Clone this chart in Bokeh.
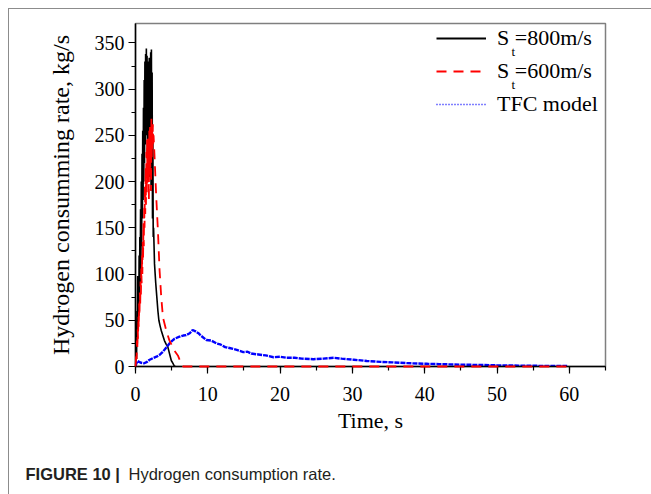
from bokeh.plotting import figure
from bokeh.layouts import column
from bokeh.models import (Legend, LegendItem, Label, SingleIntervalTicker,
                          InlineStyleSheet, Range1d)
from bokeh.embed import file_html
from bokeh.resources import INLINE

# --- data -------------------------------------------------------------
# S_t = 800 m/s
t_800 = [0.00, 0.05, 0.10, 0.15, 0.20, 0.25, 0.30, 0.35, 0.40, 0.45,
         0.50, 0.55, 0.60, 0.65, 0.70, 0.75, 0.80, 0.85, 0.90, 0.95,
         1.00, 1.05, 1.10, 1.15, 1.20, 1.25, 1.30, 1.35, 1.40, 1.45,
         1.50, 1.55, 1.60, 1.65, 1.70, 1.75, 1.80, 1.85, 1.90, 1.95,
         2.00, 2.05, 2.10, 2.15, 2.20, 2.25, 2.30, 2.35, 2.40, 2.45,
         2.50, 2.63, 2.80, 2.95, 3.10, 3.23, 3.40, 3.56, 3.80, 4.00,
         4.25, 4.48, 4.70, 4.95, 5.20, 5.40, 5.60]
q_800 = [0, 12, 35, 8, 60, 25, 98, 40, 80, 55,
         120, 70, 140, 90, 170, 110, 200, 130, 230, 160,
         255, 180, 280, 200, 310, 220, 330, 240, 338, 260,
         344, 250, 336, 230, 330, 215, 325, 240, 334, 205,
         320, 230, 340, 190, 343, 200, 318, 160, 250, 140,
         150, 111, 90, 75, 60, 50, 44, 39, 33, 28,
         24, 21, 14, 6.5, 3, 0, 0]

# S_t = 600 m/s
t_600 = [0.00, 0.05, 0.10, 0.15, 0.20, 0.25, 0.30, 0.35, 0.40, 0.45,
         0.50, 0.55, 0.60, 0.65, 0.70, 0.75, 0.80, 0.85, 0.90, 0.95,
         1.00, 1.05, 1.10, 1.15, 1.20, 1.25, 1.30, 1.35, 1.40, 1.45,
         1.50, 1.55, 1.60, 1.65, 1.70, 1.75, 1.80, 1.85, 1.90, 1.95,
         2.00, 2.05, 2.10, 2.15, 2.20, 2.25, 2.30, 2.35, 2.40, 2.45,
         2.50, 2.64, 2.87, 3.10, 3.33, 3.56, 3.80, 4.25, 4.70, 5.40,
         5.86, 6.33, 6.60, 60.0]
q_600 = [0, 5, 15, 8, 28, 18, 40, 30, 55, 42,
         68, 55, 80, 66, 92, 78, 106, 90, 120, 100,
         135, 118, 155, 130, 175, 150, 195, 165, 215, 175,
         232, 185, 245, 195, 250, 200, 240, 180, 255, 205,
         262, 215, 248, 190, 268, 225, 258, 235, 262, 240,
         250, 226, 183, 147, 104, 75, 53, 39, 28, 17,
         12, 3, 0, 0]

# TFC model
t_tfc = [0.0, 0.1, 0.3, 0.5, 0.8, 1.2, 1.6, 1.9, 2.4, 2.9, 3.4, 3.8,
         4.3, 4.7, 5.1, 5.4, 6.0, 6.6, 7.0, 7.5, 7.9, 8.3, 8.7, 9.1,
         9.8, 10.5, 11.2, 11.7, 12.4, 13.0, 14.0, 14.9, 15.5, 16.0,
         17.0, 18.0, 19.1, 20.0, 20.9, 22.0, 23.0, 24.6, 26.0, 27.4,
         28.5, 30.2, 32.0, 33.9, 35.5, 37.6, 40.4, 42.0, 44.0, 46.0,
         48.0, 50.0, 53.0, 55.0, 57.0, 59.7]
q_tfc = [0, 3, 6, 5, 4, 3.5, 5, 7, 9, 10.6, 13, 16,
         21, 25, 28, 30, 32, 33.5, 34, 36, 39.5, 38, 36, 33,
         28.6, 28, 25, 24, 21, 20, 18, 15.5, 16, 14,
         13, 12, 10, 10.5, 9.4, 9.5, 8.5, 7.9, 8.5, 9.4,
         8.5, 7.3, 6, 5, 4.5, 3.6, 2.9, 2.6, 2.2, 1.9,
         1.6, 1.3, 1.0, 0.8, 0.6, 0.5]

labels = ["S =800m/s", "S =600m/s", "TFC model"]
x_ticks_step = 10
y_ticks_step = 50

SERIF = "Liberation Serif"
SANS = "Liberation Sans"
FRAME_GREY = "#7f7f7f"
CARD_GREY = "#8c8c8c"

# --- chart ------------------------------------------------------------
p = figure(width=651, height=450, x_range=(0, 65), y_range=(0, 371),
           output_backend="svg", toolbar_location=None,
           min_border_left=135, min_border_right=46,
           min_border_top=23, min_border_bottom=84)
p.background_fill_color = "white"
p.border_fill_color = None
# thin grey card edge on the left and top
p.stylesheets = [InlineStyleSheet(css=(
    ":host { background-color: white;"
    f" background-image: linear-gradient({CARD_GREY}, {CARD_GREY}),"
    f" linear-gradient({CARD_GREY}, {CARD_GREY});"
    " background-size: 1px 100%, 100% 1px;"
    " background-position: 8px 8px, 8px 8px;"
    " background-repeat: no-repeat; }"))]
p.xgrid.visible = False
p.ygrid.visible = False
p.outline_line_color = FRAME_GREY
p.outline_line_width = 1.5

p.xaxis.ticker = SingleIntervalTicker(interval=x_ticks_step, num_minor_ticks=2)
p.yaxis.ticker = SingleIntervalTicker(interval=y_ticks_step, num_minor_ticks=2)
p.xaxis.axis_label = "Time, s"
p.yaxis.axis_label = "Hydrogen consumming rate, kg/s"

for ax in (p.xaxis[0], p.yaxis[0]):
    ax.axis_line_color = "black"
    ax.axis_line_width = 1.5
    ax.major_tick_line_color = "black"
    ax.minor_tick_line_color = "black"
    ax.major_tick_line_width = 1.2
    ax.minor_tick_line_width = 1.2
    ax.major_tick_in = 0
    ax.major_tick_out = 7
    ax.minor_tick_in = 0
    ax.minor_tick_out = 4
    ax.major_label_text_font = SERIF
    ax.major_label_text_font_size = "20px"
    ax.major_label_text_color = "black"
    ax.axis_label_text_font = SERIF
    ax.axis_label_text_font_style = "normal"
    ax.axis_label_text_color = "black"
p.xaxis.axis_label_text_font_size = "22px"
p.yaxis.axis_label_text_font_size = "24px"
p.xaxis.major_label_standoff = 13
p.yaxis.major_label_standoff = 4
p.xaxis.axis_label_standoff = 4
p.yaxis.axis_label_standoff = 18

# --- curves -----------------------------------------------------------
r800 = p.line(t_800, q_800, line_color="black", line_width=1.6)
r600 = p.line(t_600, q_600, line_color="red", line_width=1.8,
              line_dash="10 7", level="annotation")
rtfc = p.line(t_tfc, q_tfc, line_color="#0000ff", line_width=2.4,
              line_dash="5 1")

# legend samples (kept outside the visible ranges)
l800 = p.line([-10, -5], [-10, -10], line_color="black", line_width=2)
l600 = p.line([-10, -5], [-10, -10], line_color="red", line_width=2,
              line_dash="10 7")
ltfc = p.line([-10, -5], [-10, -10], line_color="#0000ff", line_width=1.5,
              line_dash="1 2")

legend = Legend(items=[LegendItem(label=labels[0], renderers=[l800]),
                       LegendItem(label=labels[1], renderers=[l600]),
                       LegendItem(label=labels[2], renderers=[ltfc])],
                location=(301, 249))
legend.border_line_color = None
legend.background_fill_alpha = 0
legend.label_text_font = SERIF
legend.label_text_font_size = "22px"
legend.label_text_color = "black"
legend.glyph_width = 50
legend.glyph_height = 22
legend.label_height = 22
legend.label_standoff = 11
legend.spacing = 7
legend.padding = 4
legend.margin = 0
p.add_layout(legend)

# subscript "t" of S_t in the first two legend entries
for ysub in (315, 282):
    p.add_layout(Label(x=376, y=ysub, x_units="screen", y_units="screen",
                       text="t", text_font=SERIF, text_font_size="13px",
                       text_color="black", text_baseline="alphabetic"))

# --- caption strip ----------------------------------------------------
cap = figure(width=651, height=44, x_range=Range1d(0, 651),
             y_range=Range1d(0, 44), output_backend="svg",
             toolbar_location=None, x_axis_type=None, y_axis_type=None,
             min_border=0, min_border_left=0, min_border_right=0,
             min_border_top=0, min_border_bottom=0)
# keep the caption's own frame independent of the chart above
if "frame_align" in cap.properties():
    cap.frame_align = False
cap.xgrid.visible = False
cap.ygrid.visible = False
cap.outline_line_color = None
cap.background_fill_color = None
cap.border_fill_color = None
cap.stylesheets = [InlineStyleSheet(css=(
    ":host { background-color: white;"
    f" background-image: linear-gradient({CARD_GREY}, {CARD_GREY});"
    " background-size: 1px 100%;"
    " background-position: 8px 0px;"
    " background-repeat: no-repeat; }"))]
cap.add_layout(Label(x=25, y=21, text="FIGURE 10 |", text_font=SANS,
                     text_font_size="16.5px", text_font_style="bold",
                     text_color="#231f20", text_baseline="alphabetic"))
cap.add_layout(Label(x=128, y=21, text="Hydrogen consumption rate.",
                     text_font=SANS, text_font_size="16.5px",
                     text_color="#231f20", text_baseline="alphabetic"))

page = column(p, cap, spacing=0)
open("out.html", "w").write(file_html(page, INLINE))
